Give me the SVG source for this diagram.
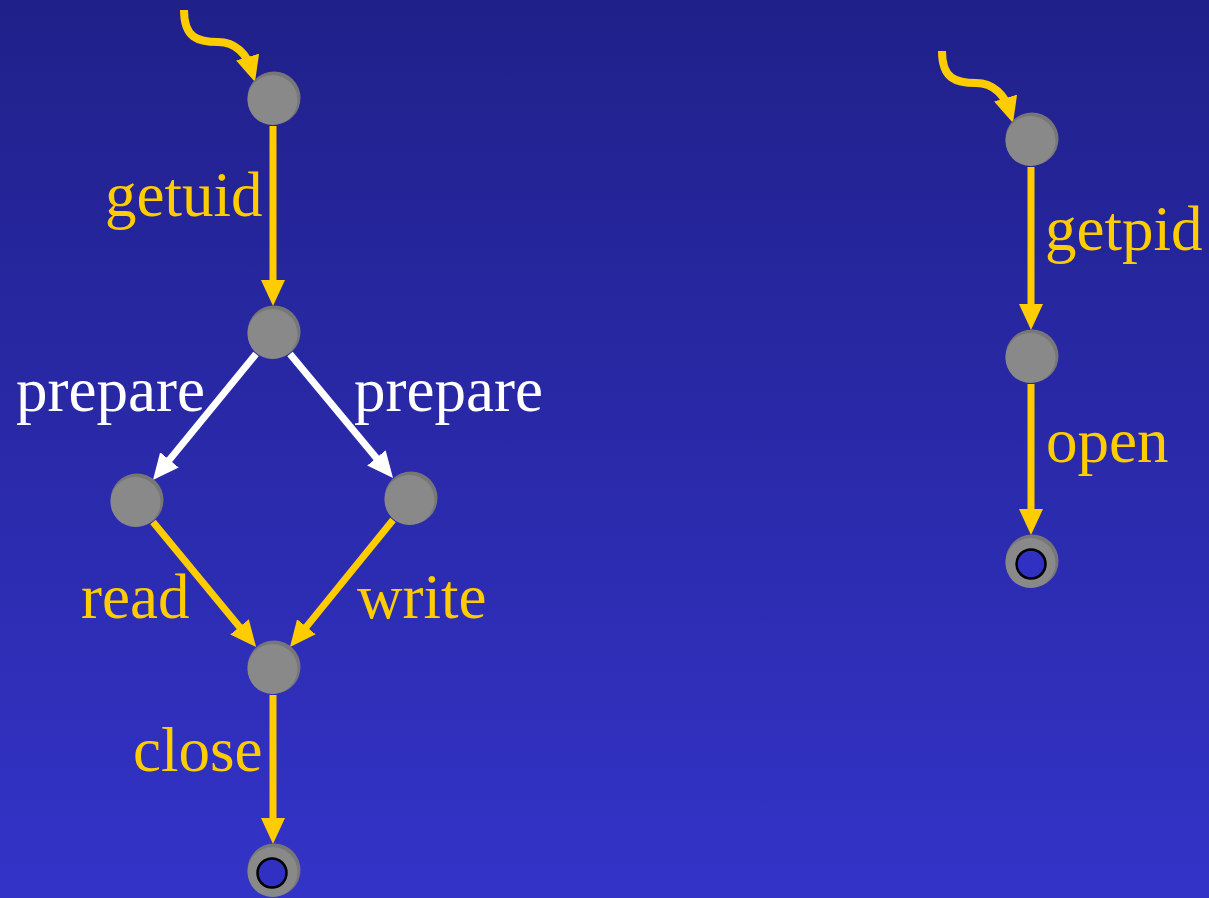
<svg xmlns="http://www.w3.org/2000/svg" width="1209" height="898" viewBox="0 0 1209 898">
<defs>
<linearGradient id="bg" x1="0" y1="0" x2="0" y2="1">
<stop offset="0" stop-color="#20208A"/>
<stop offset="1" stop-color="#3333C8"/>
</linearGradient>
<marker id="ay" markerUnits="userSpaceOnUse" markerWidth="26" markerHeight="24" refX="13" refY="12" orient="auto" viewBox="0 0 26 24">
<path d="M0,0 L26,12 L0,24 z" fill="#FFCC00"/>
</marker>
<marker id="aw" markerUnits="userSpaceOnUse" markerWidth="26" markerHeight="24" refX="13" refY="12" orient="auto" viewBox="0 0 26 24">
<path d="M0,0 L26,12 L0,24 z" fill="#FFFFFF"/>
</marker>
</defs>
<style>
.y{stroke:#FFCC00;stroke-width:7;fill:none;marker-end:url(#ay)}
.w{stroke:#FFFFFF;stroke-width:7;fill:none;marker-end:url(#aw)}
.s{stroke-width:8}
.lbl{font-family:"Liberation Serif","Times New Roman",serif;font-size:63px}
.ly{fill:#FFCC00}
.lw{fill:#FFFFFF}
.rim{fill:#777777}
.face{fill:#898989}
.hole{fill:#3030C2;stroke:#000000;stroke-width:2.5}
</style>
<rect x="0" y="0" width="1209" height="898" fill="url(#bg)"/>
<g id="connectors">
<path class="y s" d="M184,10 C184,38 198,42 218,42 C236,42 247,55 251.3,69.5"/>
<path class="y s" d="M184,10 C184,38 198,42 218,42 C236,42 247,55 251.3,69.5" transform="translate(758,41)"/>
<path class="y" d="M273,126 L273,293"/>
<path class="w" d="M256,354 L161.2,469.9"/>
<path class="w" d="M290,354 L384.7,467.9"/>
<path class="y" d="M153,522 L247.8,636.9"/>
<path class="y" d="M393,520 L298.2,636.9"/>
<path class="y" d="M273,695 L273,831"/>
<path class="y" d="M1031,167 L1031,317"/>
<path class="y" d="M1031,384 L1031,522"/>
</g>
<g id="labels">
<text class="lbl ly" x="105" y="216">getuid</text>
<text class="lbl lw" x="16" y="411">prepare</text>
<text class="lbl lw" x="354" y="411">prepare</text>
<text class="lbl ly" x="81" y="618">read</text>
<text class="lbl ly" x="357" y="618">write</text>
<text class="lbl ly" x="133" y="771">close</text>
<text class="lbl ly" x="1045" y="250">getpid</text>
<text class="lbl ly" x="1046" y="462">open</text>
</g>
<g id="n1"><circle class="rim" cx="274" cy="98" r="26.5"/><circle class="face" cx="272.5" cy="100" r="25"/></g>
<g id="n2"><circle class="rim" cx="274" cy="332" r="26.5"/><circle class="face" cx="272.5" cy="334" r="25"/></g>
<g id="n3"><circle class="rim" cx="137" cy="500" r="26.5"/><circle class="face" cx="135.5" cy="502" r="25"/></g>
<g id="n4"><circle class="rim" cx="411" cy="498" r="26.5"/><circle class="face" cx="409.5" cy="500" r="25"/></g>
<g id="n5"><circle class="rim" cx="274" cy="667" r="26.5"/><circle class="face" cx="272.5" cy="669" r="25"/></g>
<g id="n6"><circle class="rim" cx="274" cy="870" r="26.5"/><circle class="face" cx="272.5" cy="872" r="25"/><circle class="hole" cx="272" cy="873" r="14.5"/></g>
<g id="n7"><circle class="rim" cx="1032" cy="139" r="26.5"/><circle class="face" cx="1030.5" cy="141" r="25"/></g>
<g id="n8"><circle class="rim" cx="1032" cy="356" r="26.5"/><circle class="face" cx="1030.5" cy="358" r="25"/></g>
<g id="n9"><circle class="rim" cx="1032" cy="561" r="26.5"/><circle class="face" cx="1030.5" cy="563" r="25"/><circle class="hole" cx="1031" cy="564" r="14.5"/></g>
</svg>
